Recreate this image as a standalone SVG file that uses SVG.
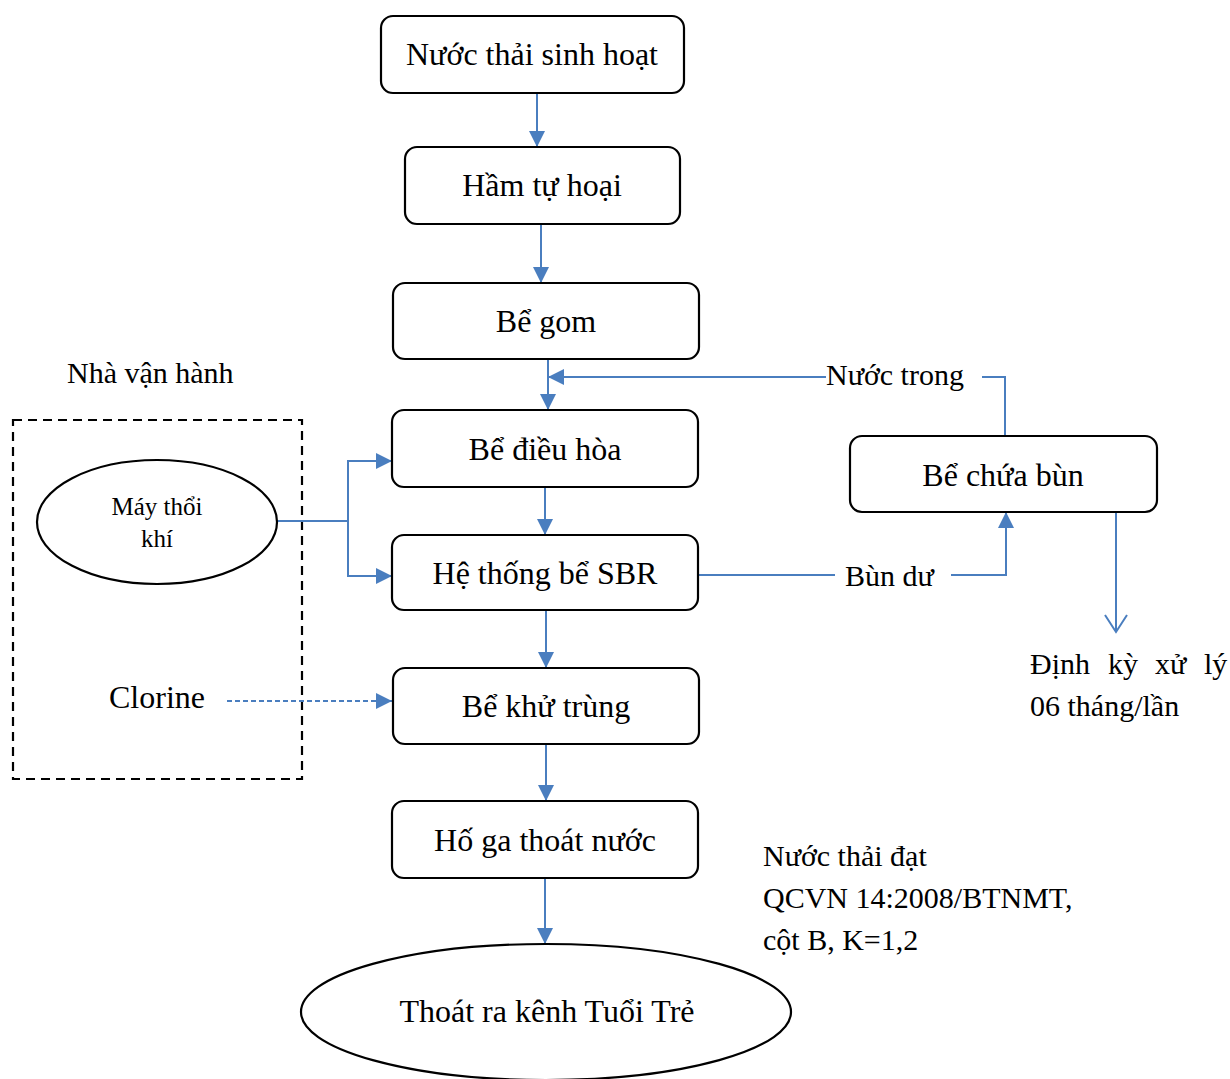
<svg xmlns="http://www.w3.org/2000/svg" width="1230" height="1079" viewBox="0 0 1230 1079">
<style>
.box{fill:#fff;stroke:#000;stroke-width:2.2}
.t{font-family:"Liberation Serif","Times New Roman",serif;font-size:30px;fill:#000}
.b{font-family:"Liberation Serif","Times New Roman",serif;font-size:32px;fill:#000}
.s{font-family:"Liberation Serif","Times New Roman",serif;font-size:25px;fill:#000}
.c{fill:none;stroke:#4a7ebf;stroke-width:2}
</style>
<defs>
<marker id="ah" markerUnits="userSpaceOnUse" markerWidth="18" markerHeight="16" refX="16" refY="8" orient="auto">
<path d="M0,0 L16,8 L0,16 z" fill="#4a7ebf"/>
</marker>
<marker id="oa" markerUnits="userSpaceOnUse" markerWidth="20" markerHeight="26" refX="18" refY="12" orient="auto">
<path d="M1,1 L18,12 L1,23" fill="none" stroke="#4a7ebf" stroke-width="2"/>
</marker>
</defs>
<rect x="13" y="420" width="289" height="359" fill="none" stroke="#000" stroke-width="2.2" stroke-dasharray="9,6"/>
<text class="t" x="67" y="383">Nhà vận hành</text>
<g id="connectors">
<line class="c" x1="537" y1="93" x2="537" y2="147" marker-end="url(#ah)"/>
<line class="c" x1="541" y1="224" x2="541" y2="283" marker-end="url(#ah)"/>
<line class="c" x1="548" y1="359" x2="548" y2="410" marker-end="url(#ah)"/>
<line class="c" x1="826" y1="377" x2="548" y2="377" marker-end="url(#ah)"/>
<polyline class="c" points="1005,436 1005,377 982,377"/>
<line class="c" x1="545" y1="487" x2="545" y2="535" marker-end="url(#ah)"/>
<line class="c" x1="546" y1="610" x2="546" y2="668" marker-end="url(#ah)"/>
<line class="c" x1="546" y1="744" x2="546" y2="801" marker-end="url(#ah)"/>
<line class="c" x1="545" y1="878" x2="545" y2="944" marker-end="url(#ah)"/>
<line class="c" x1="277" y1="521" x2="348" y2="521"/>
<polyline class="c" points="392,461 348,461 348,576 392,576"/>
<line class="c" x1="348" y1="461" x2="392" y2="461" marker-end="url(#ah)"/>
<line class="c" x1="348" y1="576" x2="392" y2="576" marker-end="url(#ah)"/>
<line class="c" x1="227" y1="701" x2="392" y2="701" stroke-dasharray="5,3" stroke-width="1.6" marker-end="url(#ah)"/>
<line class="c" x1="698" y1="575" x2="835" y2="575"/>
<polyline class="c" points="951,575 1006,575 1006,512" marker-end="url(#ah)"/>
<line class="c" x1="1116" y1="512" x2="1116" y2="632" stroke-width="1.6" marker-end="url(#oa)"/>
</g>
<g id="n1"><rect class="box" x="381" y="16" width="303" height="77" rx="12"/><text class="b" x="532" y="65" text-anchor="middle">Nước thải sinh hoạt</text></g>
<g id="n2"><rect class="box" x="405" y="147" width="275" height="77" rx="12"/><text class="b" x="542" y="196" text-anchor="middle">Hầm tự hoại</text></g>
<g id="n3"><rect class="box" x="393" y="283" width="306" height="76" rx="12"/><text class="b" x="546" y="332" text-anchor="middle">Bể gom</text></g>
<g id="n4"><rect class="box" x="392" y="410" width="306" height="77" rx="12"/><text class="b" x="545" y="460" text-anchor="middle">Bể điều hòa</text></g>
<g id="n5"><rect class="box" x="392" y="535" width="306" height="75" rx="12"/><text class="b" x="545" y="584" text-anchor="middle">Hệ thống bể SBR</text></g>
<g id="n6"><rect class="box" x="393" y="668" width="306" height="76" rx="12"/><text class="b" x="546" y="717" text-anchor="middle">Bể khử trùng</text></g>
<g id="n7"><rect class="box" x="392" y="801" width="306" height="77" rx="12"/><text class="b" x="545" y="851" text-anchor="middle">Hố ga thoát nước</text></g>
<g id="n8"><ellipse class="box" cx="546" cy="1012" rx="245" ry="68"/><text class="b" x="547" y="1022" text-anchor="middle">Thoát ra kênh Tuổi Trẻ</text></g>
<g id="n9"><rect class="box" x="850" y="436" width="307" height="76" rx="12"/><text class="b" x="1003" y="486" text-anchor="middle">Bể chứa bùn</text></g>
<g id="n10"><ellipse class="box" cx="157" cy="522" rx="120" ry="62"/><text class="s" x="157" y="515" text-anchor="middle">Máy thổi</text><text class="s" x="157" y="547" text-anchor="middle">khí</text></g>
<g id="labels">
<text class="t" x="826" y="385">Nước trong</text>
<text class="t" x="845" y="586">Bùn dư</text>
<text class="b" x="109" y="708">Clorine</text>
<text class="t" y="674"><tspan x="1030">Định</tspan><tspan x="1108">kỳ</tspan><tspan x="1155">xử</tspan><tspan x="1204">lý</tspan></text>
<text class="t" x="1030" y="716">06 tháng/lần</text>
<text class="t" x="763" y="866">Nước thải đạt</text>
<text class="t" x="763" y="908">QCVN 14:2008/BTNMT,</text>
<text class="t" x="763" y="950">cột B, K=1,2</text>
</g>
</svg>
